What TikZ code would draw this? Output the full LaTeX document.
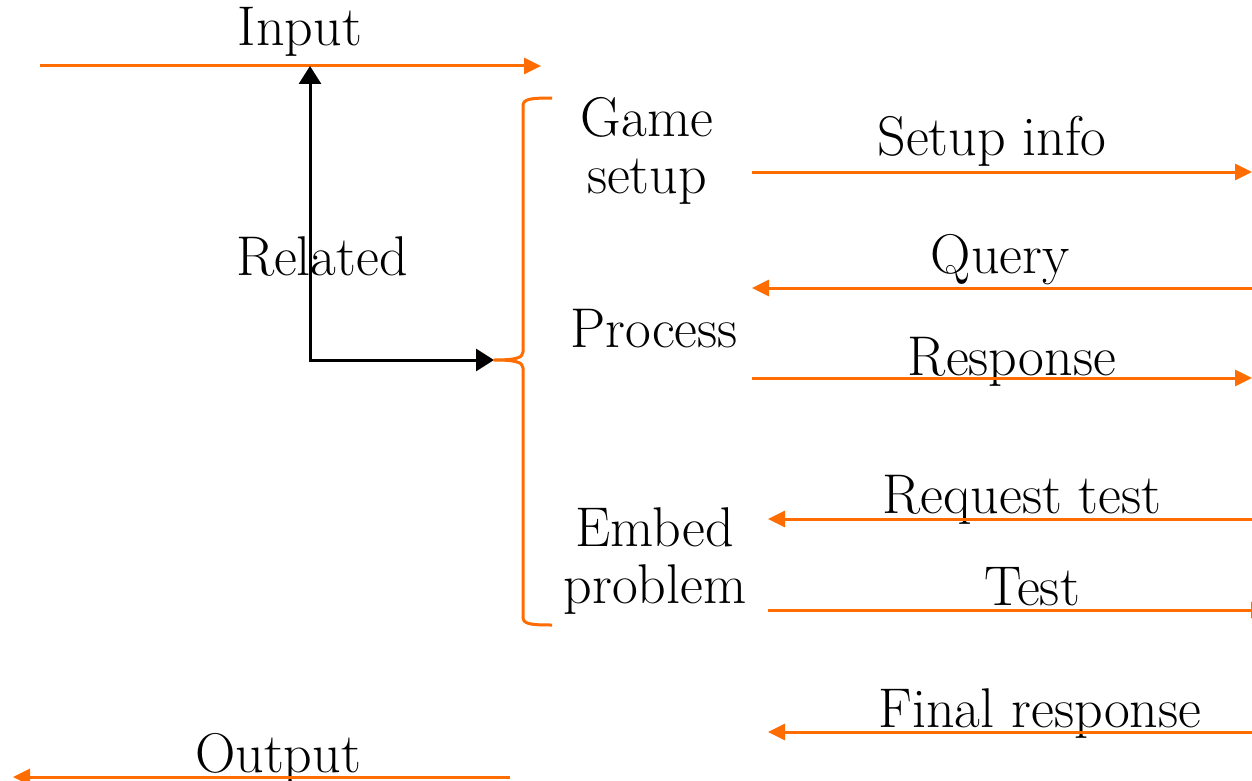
\documentclass[tikz,border=0pt]{standalone}
\usetikzlibrary{arrows.meta}
\definecolor{flow}{RGB}{255,108,0}
\begin{document}
\begin{tikzpicture}[x=1pt,y=-1pt,
  lbl/.style={font=\fontsize{56}{57}\selectfont, inner sep=0pt, anchor=base, align=center},
  msg/.style={draw=flow, line width=3pt, -{Triangle[length=17pt,width=16pt]}},
  link/.style={draw=black, line width=3pt, {Triangle[length=18pt,width=22pt]}-{Triangle[length=18pt,width=22pt]}},
  bracket/.style={draw=flow, line width=3pt, line join=round}]
\useasboundingbox (0,0) rectangle (1252,781);

% labels (multi-line labels are anchored at their last baseline)
\node[lbl] (input)   at (300,46)  {Input};
\node[lbl] (related) at (322,275) {Related};
\node[lbl] (game)    at (647,193) {Game\\setup};
\node[lbl] (process) at (654,347) {Process};
\node[lbl] (embed)   at (655,603) {Embed\\problem};
\node[lbl] (setup)   at (992,155) {Setup info};
\node[lbl] (query)   at (1000,273) {Query};
\node[lbl] (resp)    at (1012,375) {Response};
\node[lbl] (reqt)    at (1022,513) {Request test};
\node[lbl] (test)    at (1032,605) {Test};
\node[lbl] (final)   at (1040,727) {Final response};
\node[lbl] (output)  at (278,772) {Output};

% line ends
\coordinate (inL) at (40,66);    \coordinate (inR) at (541,66);
\coordinate (inJ) at (310,66);
\coordinate (elb) at (310,360);  \coordinate (brT) at (494,360);
\coordinate (s1) at (752,172);   \coordinate (s2) at (1252,172);
\coordinate (q1) at (1252,288);  \coordinate (q2) at (752,288);
\coordinate (r1) at (752,378);   \coordinate (r2) at (1252,378);
\coordinate (t1) at (1252,519);  \coordinate (t2) at (768,519);
\coordinate (u1) at (768,610);   \coordinate (u2) at (1268,610);
\coordinate (f1) at (1252,732);  \coordinate (f2) at (768,732);
\coordinate (o1) at (510,777);   \coordinate (o2) at (13,777);

% input / output streams
\draw[msg] (inL) -- (inR);
\draw[msg] (o1) -- (o2);

% related link into the brace
\draw[link] (inJ) -- (elb) -- (brT);

% brace grouping the three stages
\draw[bracket] (552,98) .. controls (530,98) and (523,99) .. (523,106)
  -- (523,352) .. controls (523,358) and (515,360) .. (494,360)
  .. controls (515,360) and (523,362) .. (523,368)
  -- (523,617) .. controls (523,624) and (530,625) .. (552,625);

% message exchanges
\draw[msg] (s1) -- (s2);
\draw[msg] (q1) -- (q2);
\draw[msg] (r1) -- (r2);
\draw[msg] (t1) -- (t2);
\draw[msg] (u1) -- (u2);
\draw[msg] (f1) -- (f2);
\end{tikzpicture}
\end{document}
